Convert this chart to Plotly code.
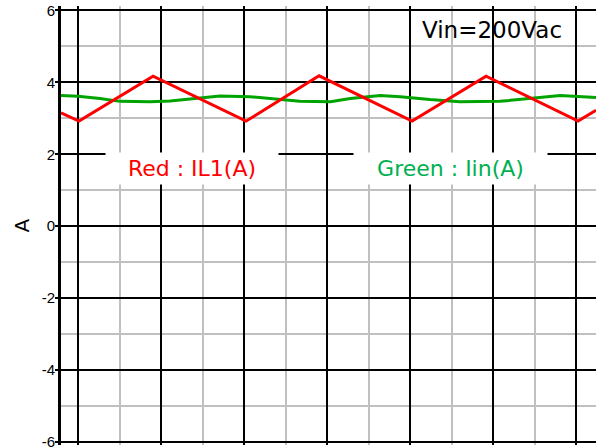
import plotly.graph_objects as go

# Red : IL1(A) triangle wave (x in major-grid units)
red_x = [-0.205, 0.012, 0.904, 2.024, 2.904, 4.024, 4.916, 6.024, 6.24]
red_y = [3.15, 2.92, 4.17, 2.92, 4.18, 2.92, 4.17, 2.92, 3.22]

# Green : Iin(A)
green_x = [-0.205, 0.0, 0.265, 0.506, 0.867, 1.11, 1.41, 1.71, 2.07, 2.43, 2.67,
           3.04, 3.28, 3.64, 3.88, 4.24, 4.60, 5.08, 5.33, 5.57, 5.81, 6.24]
green_y = [3.63, 3.61, 3.55, 3.47, 3.46, 3.48, 3.55, 3.62, 3.60, 3.52, 3.47,
           3.46, 3.55, 3.63, 3.60, 3.52, 3.46, 3.47, 3.52, 3.58, 3.63, 3.58]

y_ticks = [-6, -4, -2, 0, 2, 4, 6]
y_ticklabels = ["-6", "-4", "-2", "0", "2", "4", "6"]

fig = go.Figure()
fig.add_trace(go.Scatter(x=green_x, y=green_y, mode="lines",
                         line=dict(color="#00a400", width=3), showlegend=False))
fig.add_trace(go.Scatter(x=red_x, y=red_y, mode="lines",
                         line=dict(color="#ff0000", width=3), showlegend=False))

fig.update_layout(
    width=596, height=448,
    margin=dict(l=61, r=0, t=6, b=3, autoexpand=False),
    paper_bgcolor="white", plot_bgcolor="white",
    xaxis=dict(range=[-0.205, 6.24], tick0=0, dtick=1, showticklabels=False,
               ticks="", showgrid=True, gridcolor="black", gridwidth=2,
               zeroline=False, showline=False,
               minor=dict(dtick=0.5, tick0=0, showgrid=True, gridcolor="#c0c0c0", gridwidth=2)),
    yaxis=dict(range=[-6.08, 6.12], tickvals=y_ticks, ticktext=y_ticklabels,
               ticks="outside", ticklen=3, tickwidth=2, tickcolor="black",
               ticklabeloverflow="allow", ticklabelstandoff=-3,
               tickfont=dict(family="Liberation Sans, Arial", size=15, color="black"),
               showgrid=True, gridcolor="black", gridwidth=2, automargin=False,
               zeroline=False, showline=True, linecolor="black", linewidth=3,
               minor=dict(dtick=1, tick0=0, showgrid=True, gridcolor="#c0c0c0", gridwidth=2)),
    annotations=[
        dict(text="A", xref="paper", yref="paper", x=-0.073, y=0.5, textangle=-90,
             xanchor="center", yanchor="middle",
             showarrow=False, font=dict(family="DejaVu Sans", size=20, color="black")),
        dict(text="Vin=200Vac", xref="x", yref="y", x=(492 - 78) / 83, y=5.45,
             showarrow=False, font=dict(family="DejaVu Sans", size=23, color="black")),
        dict(text="Red : IL1(A)", xref="x", yref="y", x=(191.5 - 78) / 83, y=1.6,
             showarrow=False, bgcolor="white", width=170, height=29,
             font=dict(family="DejaVu Sans", size=22, color="#ff0000")),
        dict(text="Green : Iin(A)", xref="x", yref="y", x=(450 - 78) / 83, y=1.6,
             showarrow=False, bgcolor="white", width=191, height=29,
             font=dict(family="DejaVu Sans", size=22, color="#00b050")),
    ],
)

fig.write_html("out.html", config={"displayModeBar": False},
               post_script="document.body.style.margin='0';")
